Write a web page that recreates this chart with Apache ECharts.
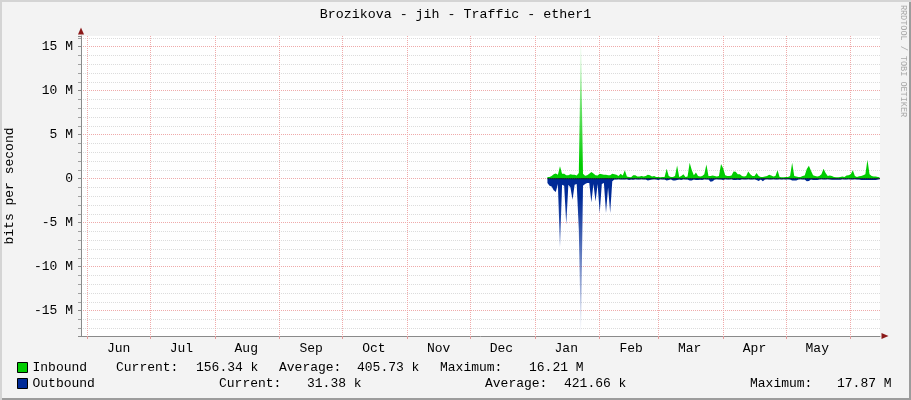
<!DOCTYPE html>
<html><head><meta charset="utf-8">
<script src="https://cdn.jsdelivr.net/npm/echarts@6/dist/echarts.min.js"></script>
<style>
html,body{margin:0;padding:0;background:#f3f3f3;}
#wrap{position:relative;width:911px;height:400px;}
#chart{width:911px;height:400px;}
#frame{position:absolute;left:0;top:0;width:911px;height:400px;pointer-events:none;box-sizing:border-box;box-shadow:inset 2px 2px 0 #d4d4d4, inset -2px -2px 0 #9c9c9c;}
</style></head>
<body><div id="wrap"><div id="chart"></div><div id="frame"></div></div>
<script>
const TITLE = 'Brozikova - jih - Traffic - ether1';
const Y_NAME = 'bits per second';
const WATERMARK = 'RRDTOOL / TOBI OETIKER';
const MONTH_LABELS = ['Jan','Feb','Mar','Apr','May','Jun','Jul','Aug','Sep','Oct','Nov','Dec'];
const AXIS_START = '2022-05-29';
const AXIS_DAYS = 383;
const DATA_START = '2023-01-07';
const Y_MIN = -17.87, Y_MAX = 16.21; // in M (bits per second)

// daily samples, Mbit/s
const INBOUND = [
 0.2,0.2,0.3,0.5,0.6,0.45,1.4,0.55,0.55,0.4,
 0.38,0.5,0.45,0.45,0.35,0.64,16.21,0.57,0.34,0.4,
 0.57,0.76,0.6,0.38,0.35,0.57,0.5,0.45,0.45,0.38,
 0.4,0.57,0.5,0.45,0.3,0.57,0.35,0.95,0.25,0.2,
 0.15,0.38,0.38,0.25,0.25,0.3,0.25,0.3,0.45,0.4,
 0.25,0.3,0.2,0.2,0.15,0.2,0.2,1.14,0.3,0.2,
 0.2,0.3,1.5,0.2,0.3,0.5,0.2,0.25,1.8,1.0,
 0.4,0.7,0.3,0.25,0.3,0.5,1.6,0.3,0.3,0.35,
 0.3,0.25,0.3,1.67,1.2,0.4,0.3,0.3,0.35,0.83,
 0.8,0.5,0.5,0.3,0.25,0.3,0.83,0.5,0.3,0.3,
 0.64,0.3,0.2,0.2,0.25,0.3,0.45,0.35,0.25,0.3,
 0.95,0.2,0.15,0.15,0.2,0.2,0.3,1.8,0.3,0.25,
 0.2,0.2,0.3,0.35,1.1,1.48,0.9,0.4,0.3,0.25,
 0.3,0.5,1.14,0.64,0.3,0.35,0.3,0.2,0.15,0.15,
 0.2,0.25,0.2,0.35,0.4,0.5,0.95,0.3,0.2,0.27,
 0.3,0.4,0.5,2.16,0.5,0.3,0.25,0.25,0.2,0.16
];
const OUTBOUND = [
 -0.5,-0.8,-0.9,-1.3,-1.5,-0.6,-7.8,-0.7,-0.8,-5.2,
 -0.7,-1.0,-2.4,-0.7,-0.6,-5.8,-17.87,-0.8,-0.6,-0.5,
 -0.5,-2.7,-0.6,-2.6,-0.6,-3.9,-0.6,-0.5,-3.9,-1.0,
 -3.9,-0.3,-0.1,-0.08,-0.05,-0.1,-0.08,-0.1,-0.05,-0.15,
 -0.08,-0.12,-0.05,-0.08,-0.1,-0.05,-0.08,-0.1,-0.2,-0.15,
 -0.08,-0.05,-0.1,-0.15,-0.05,-0.08,-0.1,-0.2,-0.15,-0.05,
 -0.2,-0.2,-0.15,-0.08,-0.15,-0.05,-0.08,-0.1,-0.2,-0.2,
 -0.08,-0.15,-0.15,-0.12,-0.15,-0.05,-0.08,-0.1,-0.35,-0.3,
 -0.08,-0.05,-0.1,-0.08,-0.15,-0.05,-0.08,-0.1,-0.05,-0.15,
 -0.15,-0.12,-0.15,-0.05,-0.08,-0.1,-0.05,-0.08,-0.1,-0.05,
 -0.15,-0.25,-0.08,-0.3,-0.1,-0.05,-0.08,-0.1,-0.05,-0.08,
 -0.1,-0.05,-0.08,-0.05,-0.1,-0.05,-0.08,-0.2,-0.2,-0.2,
 -0.08,-0.05,-0.1,-0.08,-0.3,-0.25,-0.08,-0.15,-0.15,-0.15,
 -0.08,-0.05,-0.1,-0.08,-0.05,-0.1,-0.12,-0.12,-0.12,-0.12,
 -0.12,-0.05,-0.08,-0.1,-0.05,-0.08,-0.1,-0.05,-0.08,-0.1,
 -0.15,-0.15,-0.15,-0.15,-0.15,-0.15,-0.15,-0.15,-0.08,-0.03
];
const LEGEND_NAMES = ['Inbound','Outbound'];
const STAT_LABELS = ['Current:','Average:','Maximum:'];
const INBOUND_STATS = ['156.34 k','405.73 k','16.21 M'];
const OUTBOUND_STATS = ['31.38 k','421.66 k','17.87 M'];

const F = 'Liberation Mono';
const GREEN = '#00cc00', BLUE = '#002a97';
const DAY = 86400000;
const t0 = Date.parse(AXIS_START + 'T00:00:00Z');
const cats = [];
for (let i = 0; i < AXIS_DAYS; i++) cats.push(new Date(t0 + i * DAY).toISOString().slice(0, 10));
const s0 = cats.indexOf(DATA_START);
const place = arr => cats.map((c, i) => (i >= s0 && i - s0 < arr.length) ? arr[i - s0] : '-');
const inFull = place(INBOUND);
const outFull = place(OUTBOUND);
const zeroFull = place(INBOUND.map(() => 0));
const isFirst = (i, v) => v.slice(8) === '01';
const isMid = (i, v) => v.slice(8) === '16';

const txt = (x, y, text) => ({type:'text', x, y, silent:true,
  style:{text, fontFamily:F, fontSize:13, fill:'#000', align:'left', verticalAlign:'middle'}});
const L1 = [116, 196, 279, 357, 440, 529];
const L2 = [219, 307, 485, 564, 750, 837];
const graphics = [];
for (let k = 0; k < 3; k++) {
  graphics.push(txt(L1[2*k], 368, STAT_LABELS[k]));
  graphics.push(txt(L1[2*k+1], 368, INBOUND_STATS[k]));
  graphics.push(txt(L2[2*k], 384, STAT_LABELS[k]));
  graphics.push(txt(L2[2*k+1], 384, OUTBOUND_STATS[k]));
}
graphics.push({type:'text', x:903, y:61, rotation:-Math.PI/2, silent:true,
  style:{text:WATERMARK, fontFamily:F, fontSize:8.5, fill:'#a8a8a8', align:'center', verticalAlign:'middle'}});

const chart = echarts.init(document.getElementById('chart'), null, {renderer:'canvas'});
chart.setOption({
  animation:false,
  backgroundColor:'#f3f3f3',
  title:{text:TITLE, left:'center', top:3, textStyle:{fontFamily:F, fontSize:13.3, fontWeight:'normal', color:'#000'}},
  grid:{left:81, right:31, top:36, bottom:64, show:true, backgroundColor:'#ffffff', borderWidth:0,
    containLabel:false, outerBoundsMode:'none'},
  legend:{orient:'vertical', left:12, top:356, itemWidth:10, itemHeight:10, itemGap:3, icon:'rect', selectedMode:false,
    textStyle:{fontFamily:F, fontSize:13, color:'#000'},
    data:[{name:LEGEND_NAMES[0], itemStyle:{color:GREEN, borderColor:'#000', borderWidth:1}},
          {name:LEGEND_NAMES[1], itemStyle:{color:BLUE, borderColor:'#000', borderWidth:1}}]},
  xAxis:[{
    type:'category', data:cats, boundaryGap:false,
    axisLine:{show:true, onZero:false, lineStyle:{color:'#8a8a8a', width:1}},
    axisTick:{show:true, interval:isFirst, length:3, lineStyle:{color:'#e39a9a'}},
    axisLabel:{interval:isMid, formatter:v => MONTH_LABELS[+v.slice(5,7) - 1], fontFamily:F, fontSize:13, color:'#000', margin:6},
    splitLine:{show:true, interval:isFirst, lineStyle:{color:'#efaaaa', type:[1,1], width:1}}
  },{
    type:'value', position:'bottom', min:0, max:1,
    axisLine:{show:true, onZero:false, symbol:['none','triangle'], symbolSize:[6,7], symbolOffset:[0,5], lineStyle:{color:'#8b1a1a', width:0}},
    axisTick:{show:false}, axisLabel:{show:false}, splitLine:{show:false}
  }],
  yAxis:[{
    type:'value', min:Y_MIN, max:Y_MAX, splitNumber:7,
    name:Y_NAME, nameLocation:'middle', nameGap:65, nameRotate:90,
    nameTextStyle:{fontFamily:F, fontSize:13, color:'#000'},
    axisLine:{show:true, onZero:false, lineStyle:{color:'#8a8a8a', width:1}},
    axisTick:{show:true, length:3, lineStyle:{color:'#8a8a8a'}},
    minorTick:{show:true, splitNumber:5, length:3, lineStyle:{color:'#a0a0a0'}},
    axisLabel:{fontFamily:F, fontSize:13, color:'#000', margin:8, showMinLabel:false, showMaxLabel:false,
      formatter:v => v === 0 ? '0' : (v + ' M')},
    splitLine:{show:true, showMinLine:false, showMaxLine:false, lineStyle:{color:'#efaaaa', type:[1,1], width:1}},
    minorSplitLine:{show:true, lineStyle:{color:'#dcdcdc', type:[1,1], width:1}}
  },{
    type:'value', position:'left', min:0, max:1,
    axisLine:{show:true, onZero:false, symbol:['none','triangle'], symbolSize:[6,7], symbolOffset:[0,5], lineStyle:{color:'#8b1a1a', width:0}},
    axisTick:{show:false}, axisLabel:{show:false}, splitLine:{show:false}
  }],
  series:[
    {name:LEGEND_NAMES[1], type:'line', data:outFull, symbol:'none', silent:true, z:2,
      lineStyle:{width:0}, itemStyle:{color:BLUE},
      areaStyle:{opacity:1, color:{type:'linear', x:0, y:0, x2:0, y2:1, colorStops:[
        {offset:0, color:'rgba(0,42,151,1)'}, {offset:0.12, color:'rgba(0,42,151,1)'}, {offset:1, color:'rgba(0,42,151,0.06)'}]}}},
    {name:LEGEND_NAMES[0], type:'line', data:inFull, symbol:'none', silent:true, z:3,
      lineStyle:{width:0}, itemStyle:{color:GREEN},
      areaStyle:{opacity:1, color:{type:'linear', x:0, y:0, x2:0, y2:1, colorStops:[
        {offset:0, color:'rgba(0,204,0,0.05)'}, {offset:0.9, color:'rgba(0,204,0,1)'}, {offset:1, color:'rgba(0,204,0,1)'}]}}},
    {name:'zero', type:'line', data:zeroFull, symbol:'none', silent:true, z:4,
      lineStyle:{color:'#0a0a30', width:1}, itemStyle:{color:'#0a0a30'}}
  ],
  graphic:graphics
});
</script>
</body></html>
